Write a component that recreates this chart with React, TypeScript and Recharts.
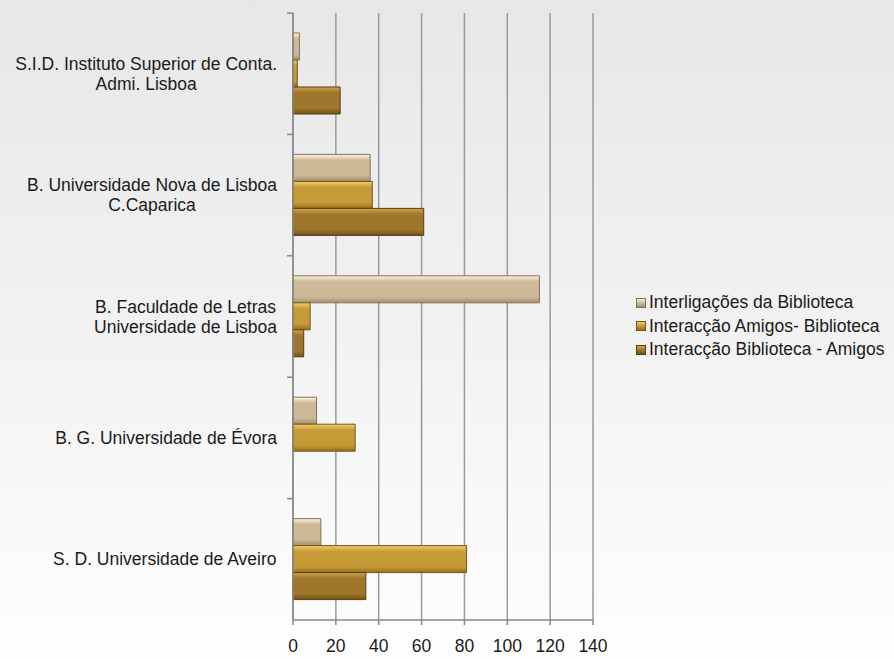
import React from "react";
import {
  BarChart,
  Bar,
  XAxis,
  YAxis,
  CartesianGrid,
  Legend,
} from "recharts";

const categories = [
  "S.I.D. Instituto Superior de Conta.\nAdmi. Lisboa",
  "B. Universidade Nova de Lisboa\nC.Caparica",
  "B. Faculdade de Letras\nUniversidade de Lisboa",
  "B. G. Universidade de Évora",
  "S. D. Universidade de Aveiro",
];
const interligacoes = [3, 36, 115, 11, 13];
const amigosBiblioteca = [2, 37, 8, 29, 81];
const bibliotecaAmigos = [22, 61, 5, 0, 34];
const xTicks = [0, 20, 40, 60, 80, 100, 120, 140];

const seriesNames = [
  "Interligações da Biblioteca",
  "Interacção Amigos- Biblioteca",
  "Interacção Biblioteca - Amigos",
];

const data = categories.map((name, i) => ({
  name,
  interligacoes: interligacoes[i],
  amigosBiblioteca: amigosBiblioteca[i],
  bibliotecaAmigos: bibliotecaAmigos[i],
}));

const FONT = "'Liberation Sans', Arial, sans-serif";
const FS = 17.5;

const gradients = [
  { id: "gInter", top: "#fff6e2", mid: "#cdb898", bottom: "#a48e6e", stroke: "#857256" },
  { id: "gAmigos", top: "#f3cf6c", mid: "#c79a38", bottom: "#94701e", stroke: "#735616" },
  { id: "gBib", top: "#d1a44c", mid: "#9f762c", bottom: "#735319", stroke: "#573f12" },
];

let ctx: CanvasRenderingContext2D | null = null;
const measure = (s: string) => {
  if (!ctx) ctx = document.createElement("canvas").getContext("2d");
  if (!ctx) return s.length * 8;
  ctx.font = `${FS}px ${FONT}`;
  return ctx.measureText(s).width;
};

// category label, lines centred on each other, plus a tick at the band's top edge
const CategoryTick = (props: any) => {
  const { x, y, payload } = props;
  const lines: string[] = String(payload.value).split("\n");
  const widest = Math.max(...lines.map(measure));
  const cx = x - widest / 2;
  const half = payload.offset || 0;
  const start = y - ((lines.length - 1) * 20) / 2;
  return (
    <g>
      <line x1={x + 10} x2={x + 16} y1={y - half} y2={y - half} stroke="#888" strokeWidth={1.5} />
      {lines.map((l, i) => (
        <text
          key={i}
          x={cx}
          y={start + i * 20}
          dy="0.35em"
          textAnchor="middle"
          fontSize={FS}
          fontFamily={FONT}
          fill="#1a1a1a"
        >
          {l}
        </text>
      ))}
    </g>
  );
};

const LegendBox = () => (
  <div style={{ fontFamily: FONT, fontSize: FS, color: "#1a1a1a" }}>
    {seriesNames.map((n, i) => (
      <div key={n} style={{ display: "flex", alignItems: "center", height: 23.5 }}>
        <span
          style={{
            display: "inline-block",
            width: 8,
            height: 8,
            marginRight: 3,
            border: `1px solid ${gradients[i].stroke}`,
            background: `linear-gradient(${gradients[i].top}, ${gradients[i].mid} 50%, ${gradients[i].bottom})`,
          }}
        />
        <span style={{ whiteSpace: "nowrap" }}>{n}</span>
      </div>
    ))}
  </div>
);

const App = () => {
  return (
    <div
      style={{
        position: "absolute",
        left: 0,
        top: 0,
        width: 894,
        height: 659,
        background: "linear-gradient(#e7e7e7, #f2f2f2 50%, #fefefe)",
      }}
    >
      <BarChart
        width={894}
        height={659}
        data={data}
        layout="vertical"
        margin={{ top: 13, right: 301, left: 0, bottom: 9 }}
        barCategoryGap={20}
        barGap={0}
      >
        <defs>
          {gradients.map((g) => (
            <linearGradient key={g.id} id={g.id} x1="0" y1="0" x2="0" y2="1">
              <stop offset="0%" stopColor={g.top} />
              <stop offset="22%" stopColor={g.mid} />
              <stop offset="78%" stopColor={g.mid} />
              <stop offset="100%" stopColor={g.bottom} />
            </linearGradient>
          ))}
        </defs>
        <CartesianGrid horizontal={false} stroke="#9a9a9a" strokeWidth={1.5} />
        <XAxis
          type="number"
          domain={[0, 140]}
          ticks={xTicks}
          height={30}
          tickSize={5}
          tickMargin={15}
          stroke="#888"
          strokeWidth={1.5}
          tick={{ fontSize: FS, fontFamily: FONT, fill: "#1a1a1a" }}
          interval={0}
        />
        <YAxis
          type="category"
          dataKey="name"
          width={293}
          tickSize={0}
          tickMargin={16}
          tickLine={false}
          stroke="#888"
          strokeWidth={1.5}
          tick={(p: any) => <CategoryTick {...p} />}
          interval={0}
        />
        <Legend
          layout="vertical"
          align="center"
          verticalAlign="middle"
          content={() => <LegendBox />}
          wrapperStyle={{ left: 636, top: 291, width: 258 }}
        />
        <Bar
          dataKey="interligacoes"
          name={seriesNames[0]}
          fill="url(#gInter)"
          stroke={gradients[0].stroke}
          strokeWidth={1}
          isAnimationActive={false}
        />
        <Bar
          dataKey="amigosBiblioteca"
          name={seriesNames[1]}
          fill="url(#gAmigos)"
          stroke={gradients[1].stroke}
          strokeWidth={1}
          isAnimationActive={false}
        />
        <Bar
          dataKey="bibliotecaAmigos"
          name={seriesNames[2]}
          fill="url(#gBib)"
          stroke={gradients[2].stroke}
          strokeWidth={1}
          isAnimationActive={false}
        />
      </BarChart>
    </div>
  );
};

export default App;
